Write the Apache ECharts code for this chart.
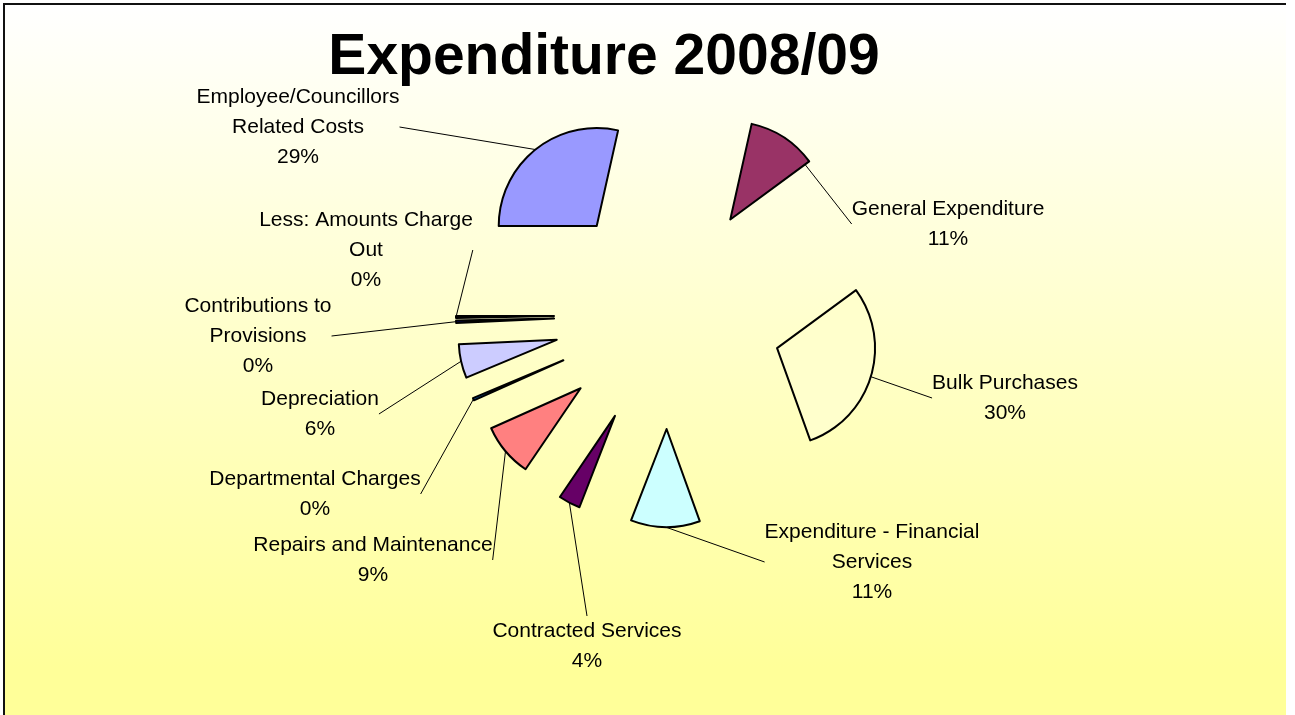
<!DOCTYPE html>
<html>
<head>
<meta charset="utf-8">
<title>Expenditure 2008/09</title>
<script src="https://cdn.jsdelivr.net/npm/echarts@6/dist/echarts.min.js"></script>
<style>
  html, body { margin: 0; padding: 0; background: #fff; overflow: hidden; }
  #frame {
    position: absolute; left: 3px; top: 3px; width: 1281px; height: 720px;
    border-top: 2px solid #111; border-left: 2px solid #111;
    background: linear-gradient(to bottom, #ffffff 0%, #ffffcc 45%, #ffff99 92%, #ffff99 100%);
  }
  #chart { position: absolute; left: 0; top: 0; width: 1295px; height: 715px; }
</style>
</head>
<body>
<div id="frame"></div>
<div id="chart"></div>
<script>
  // data (share of total, %)
  const categories = [
    'Employee/Councillors Related Costs',
    'General Expenditure',
    'Bulk Purchases',
    'Expenditure - Financial Services',
    'Contracted Services',
    'Repairs and Maintenance',
    'Departmental Charges',
    'Depreciation',
    'Contributions to Provisions',
    'Less: Amounts Charge Out'
  ]
  const shares = [28.5, 11.4, 29.6, 11.4, 3.6, 8.8, 0.4, 5.6, 0.4, 0.3]
  const sliceColors = ['#9999FF', '#993366', '#FFFFCC', '#CCFFFF', '#660066',
                       '#FF8080', '#0066CC', '#CCCCFF', '#000080', '#FF00FF']

  // where each label block sits (centre of text)
  const labelCenters = [[298, 127], [948, 224], [1005, 398], [872, 562], [587, 646],
                        [373, 560], [315, 494], [320, 414], [258, 336], [366, 250]]

  const pieCenter = [668, 315]
  const pieRadius = 98
  const explode = 114
  const startAngle = 180

  const labelFont = '21px "Liberation Sans", Arial, sans-serif'
  const measure = document.createElement('canvas').getContext('2d')
  measure.font = labelFont

  // word wrap like the excel labels do
  function wrap(text, maxW) {
    const words = text.split(' ')
    const lines = []
    let line = ''
    words.forEach(w => {
      const t = line ? line + ' ' + w : w
      if (line && measure.measureText(t).width > maxW) {
        lines.push(line)
        line = w
      } else {
        line = t
      }
    })
    lines.push(line)
    return lines.join('\n')
  }

  const total = shares.reduce((a, b) => a + b, 0)

  // one pie per slice, only that slice visible, pushed out along its bisector
  const series = []
  let cum = 0
  for (let k = 0; k < shares.length; k++) {
    const mid = (startAngle - 360 * (cum + shares[k] / 2) / total) * Math.PI / 180
    cum += shares[k]
    series.push({
      type: 'pie',
      center: [pieCenter[0] + Math.cos(mid) * explode, pieCenter[1] - Math.sin(mid) * explode],
      radius: pieRadius,
      startAngle: startAngle,
      clockwise: true,
      avoidLabelOverlap: false,
      silent: true,
      emphasis: { disabled: true },
      label: {
        show: true,
        position: 'outside',
        color: '#000',
        fontFamily: '"Liberation Sans", Arial, sans-serif',
        fontSize: 21,
        lineHeight: 30,
        align: 'center',
        formatter: p => wrap(p.name, 245) + '\n' + Math.round(p.percent) + '%'
      },
      labelLine: {
        show: true,
        length: 10,
        length2: 0,
        smooth: false,
        lineStyle: { color: '#000', width: 1 }
      },
      labelLayout: params => {
        const c = labelCenters[params.dataIndex]
        return { x: c[0], y: c[1], align: 'center', verticalAlign: 'middle' }
      },
      data: categories.map((name, i) => i === k ? {
        name: name,
        value: shares[i],
        itemStyle: { color: sliceColors[i], borderColor: '#000', borderWidth: 2 }
      } : {
        name: name,
        value: shares[i],
        itemStyle: { color: 'transparent', borderWidth: 0 },
        label: { show: false },
        labelLine: { show: false }
      })
    })
  }

  const chart = echarts.init(document.getElementById('chart'))
  const option = {
    animation: false,
    backgroundColor: 'transparent',
    title: {
      text: 'Expenditure 2008/09',
      left: 599,
      top: 25,
      textAlign: 'center',
      textStyle: {
        fontFamily: '"Liberation Sans", Arial, sans-serif',
        fontSize: 57,
        fontWeight: 'bold',
        color: '#000'
      }
    },
    series: series
  }
  chart.setOption(option)
</script>
</body>
</html>
